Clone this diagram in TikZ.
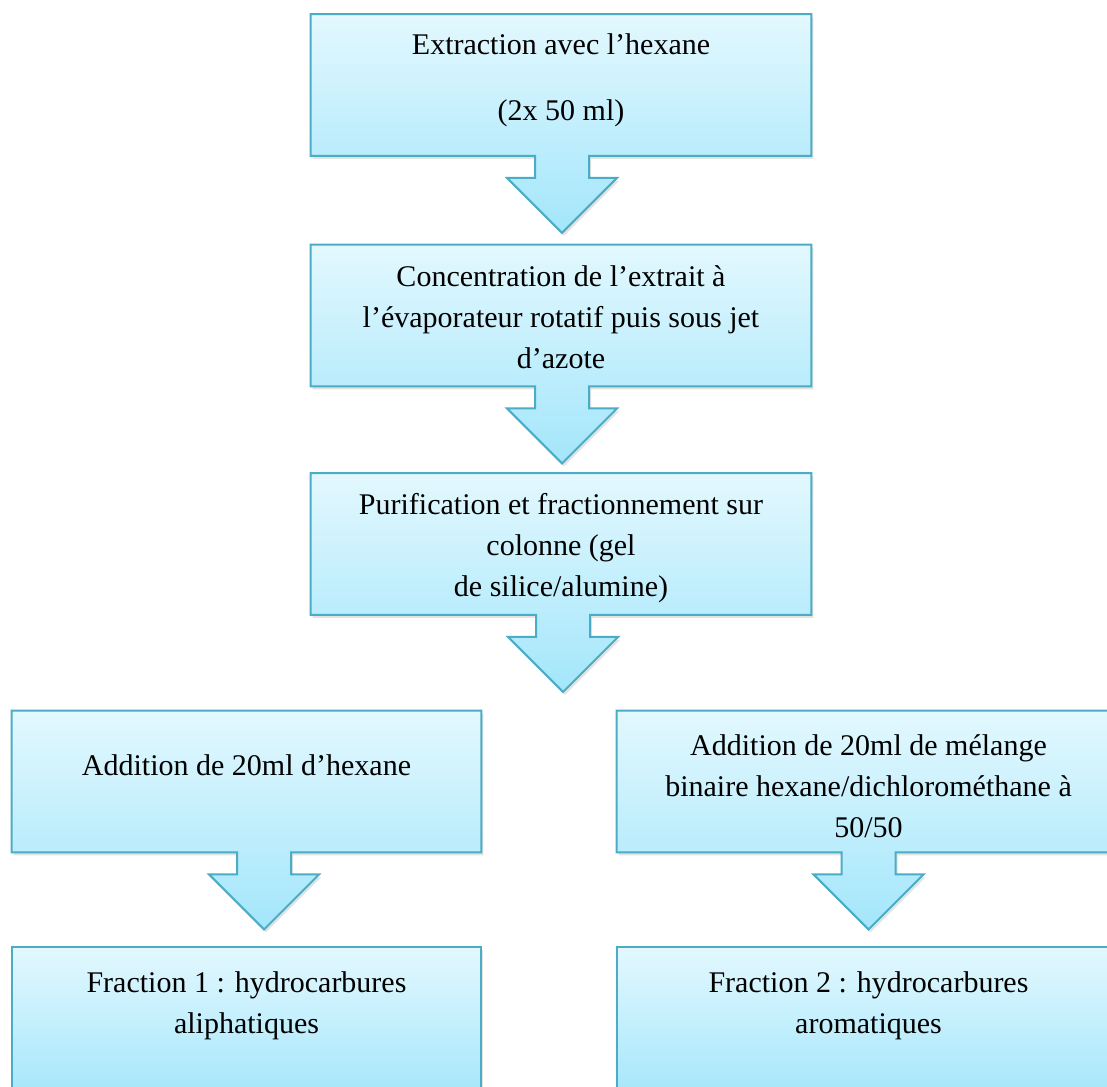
\documentclass[tikz,border=0pt]{standalone}
\usepackage{fontspec}
\setmainfont{Liberation Serif}
\usetikzlibrary{positioning,calc,shadows}

\definecolor{boxline}{HTML}{4BACC6}
\definecolor{boxtop}{HTML}{E3F8FE}
\definecolor{boxbot}{HTML}{A3E6FB}

% box with the fat arrow under it: #1 = box, #2 = shift of the arrow
\newcommand\boxarrow[2]{%
  \path[callbox] (#1.north west) -- (#1.north east) -- (#1.south east)
    -- ($(#1.south)+(#2+27,0)$) -- ++(0,22) -- ++(28,0) -- ++(-55,55)
    -- ++(-55,-55) -- ++(28,0) -- ++(0,-22) -- (#1.south west) -- cycle;}

\begin{document}
\begin{tikzpicture}[x=0.5pt,y=-0.5pt,
    callbox/.style={draw=boxline, line width=1pt, top color=boxtop, bottom color=boxbot,
      drop shadow={opacity=0.22, shadow xshift=1pt, shadow yshift=-1.5pt}},
    stepbox/.style={minimum height=70.5pt, inner sep=0pt},
    txt/.style={align=center, inner sep=0pt, font=\fontsize{15}{20.5}\selectfont}]
	\useasboundingbox (0,0) rectangle (1107,1086);
	\clip (0,0) rectangle (1107,1086);
	% boxes
	\node[stepbox, minimum width=250pt] (extr) at (561,85) {};
	\node[stepbox, minimum width=250pt] (conc) at (561,315.5) {};
	\node[stepbox, minimum width=250pt] (purif) at (561,544) {};
	\node[stepbox, minimum width=234.5pt] (addhex) at (246.5,781.5) {};
	\node[stepbox, minimum width=251.5pt] (addmix) at (868.5,781.5) {};
	\node[stepbox, minimum width=234.5pt, minimum height=76.5pt] (frac1) at (246.5,1023.5) {};
	\node[stepbox, minimum width=251.5pt, minimum height=76.5pt] (frac2) at (868.5,1023.5) {};
	\boxarrow{extr}{1}
	\boxarrow{conc}{1}
	\boxarrow{purif}{2}
	\boxarrow{addhex}{17.5}
	\boxarrow{addmix}{0}
	\path[callbox] (frac1.north west) rectangle (frac1.south east);
	\path[callbox] (frac2.north west) rectangle (frac2.south east);
	% texts
	\node[txt, below=9.75pt of extr.north] (extrtxt) {Extraction avec l’hexane\\[12.5pt](2x 50 ml)};
	\node[txt, below=10.25pt of conc.north] (conctxt) {Concentration de l’extrait à\\l’évaporateur rotatif puis sous jet\\d’azote};
	\node[txt, below=9.75pt of purif.north] (puriftxt) {Purification et fractionnement sur\\colonne (gel\\de silice/alumine)};
	\node[txt, below=21.75pt of addhex.north] (addhextxt) {Addition de 20ml d’hexane};
	\node[txt, below=11.75pt of addmix.north] (addmixtxt) {Addition de 20ml de mélange\\binaire hexane/dichlorométhane à\\50/50};
	\node[txt, below=12.25pt of frac1.north] (frac1txt) {Fraction 1 : hydrocarbures\\aliphatiques};
	\node[txt, below=12.25pt of frac2.north] (frac2txt) {Fraction 2 : hydrocarbures\\aromatiques};
\end{tikzpicture}
\end{document}
